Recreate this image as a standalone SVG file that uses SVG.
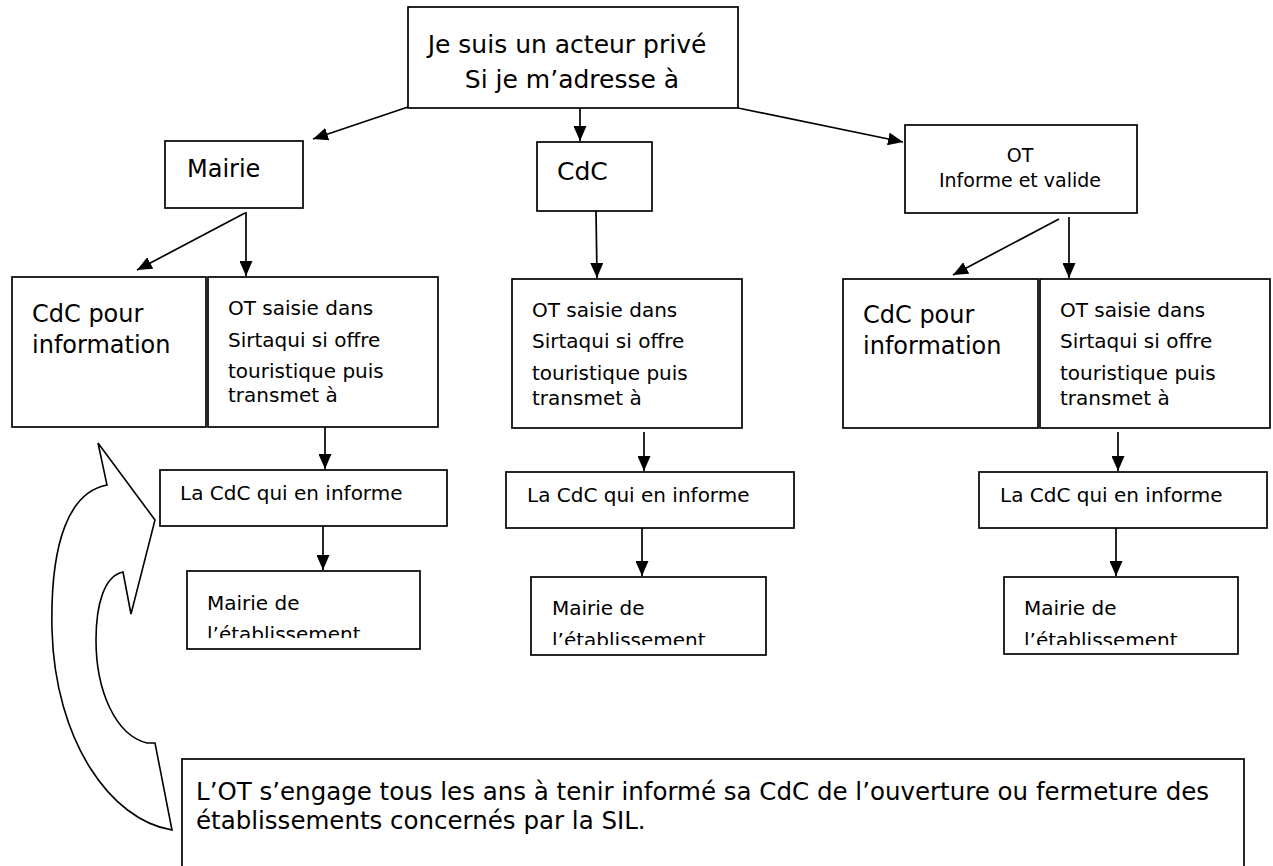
<svg xmlns="http://www.w3.org/2000/svg" width="1273" height="866" viewBox="0 0 1273 866">
<style>
  .box { fill: #fff; stroke: #000; stroke-width: 1.7; }
  .t { font-family: "DejaVu Sans", Verdana, sans-serif; fill: #000; }
  .big { font-size: 25px; }
  .note { font-size: 24.5px; }
  .mid { font-size: 24px; }
  .sm { font-size: 20px; }
  .ot { font-size: 19px; }
  .conn line { stroke: #000; stroke-width: 1.7; marker-end: url(#ah); }
</style>
<defs>
  <marker id="ah" markerUnits="userSpaceOnUse" markerWidth="15" markerHeight="13" refX="15" refY="6.5" orient="auto">
    <path d="M0,0 L15,6.5 L0,13 Z" fill="#000"/>
  </marker>
  <clipPath id="clipL"><rect x="187" y="571" width="233" height="67"/></clipPath>
  <clipPath id="clipM"><rect x="531" y="577" width="235" height="68"/></clipPath>
  <clipPath id="clipR"><rect x="1004" y="577" width="234" height="68"/></clipPath>
</defs>
<rect width="1273" height="866" fill="#fff"/>

<g id="top">
  <rect class="box" x="408" y="7" width="330" height="101"/>
  <text class="t big" x="567" y="53" text-anchor="middle">Je suis un acteur privé</text>
  <text class="t big" x="572" y="88" text-anchor="middle">Si je m’adresse à</text>
</g>

<g id="mairie">
  <rect class="box" x="165" y="141" width="138" height="67"/>
  <text class="t mid" x="187" y="177">Mairie</text>
</g>
<g id="cdc">
  <rect class="box" x="537" y="142" width="115" height="69"/>
  <text class="t big" x="557" y="180">CdC</text>
</g>
<g id="ot">
  <rect class="box" x="905" y="125" width="232" height="88"/>
  <text class="t ot" x="1020" y="162" text-anchor="middle">OT</text>
  <text class="t ot" x="1020" y="187" text-anchor="middle">Informe et valide</text>
</g>

<!-- left column -->
<g id="l-cdcinfo">
  <rect class="box" x="12" y="277" width="194" height="150"/>
  <text class="t mid" x="32" y="322">CdC pour</text>
  <text class="t mid" x="32" y="353">information</text>
</g>
<g id="l-otsaisie">
  <rect class="box" x="208" y="277" width="230" height="150"/>
  <text class="t sm" x="228" y="315">OT saisie dans</text>
  <text class="t sm" x="228" y="347">Sirtaqui si offre</text>
  <text class="t sm" x="228" y="378">touristique puis</text>
  <text class="t sm" x="228" y="402">transmet à</text>
</g>
<g id="l-lacdc">
  <rect class="box" x="160" y="470" width="287" height="56"/>
  <text class="t sm" x="180" y="500">La CdC qui en informe</text>
</g>
<g id="l-mairiede">
  <rect class="box" x="187" y="571" width="233" height="78"/>
  <text class="t sm" x="207" y="610">Mairie de</text>
  <text class="t sm" x="207" y="641" clip-path="url(#clipL)">l’établissement</text>
</g>

<!-- middle column -->
<g id="m-otsaisie">
  <rect class="box" x="512" y="279" width="230" height="149"/>
  <text class="t sm" x="532" y="317">OT saisie dans</text>
  <text class="t sm" x="532" y="348">Sirtaqui si offre</text>
  <text class="t sm" x="532" y="380">touristique puis</text>
  <text class="t sm" x="532" y="405">transmet à</text>
</g>
<g id="m-lacdc">
  <rect class="box" x="506" y="472" width="288" height="56"/>
  <text class="t sm" x="527" y="502">La CdC qui en informe</text>
</g>
<g id="m-mairiede">
  <rect class="box" x="531" y="577" width="235" height="78"/>
  <text class="t sm" x="552" y="615">Mairie de</text>
  <text class="t sm" x="552" y="647" clip-path="url(#clipM)">l’établissement</text>
</g>

<!-- right column -->
<g id="r-cdcinfo">
  <rect class="box" x="843" y="279" width="195" height="149"/>
  <text class="t mid" x="863" y="323">CdC pour</text>
  <text class="t mid" x="863" y="354">information</text>
</g>
<g id="r-otsaisie">
  <rect class="box" x="1040" y="279" width="230" height="149"/>
  <text class="t sm" x="1060" y="317">OT saisie dans</text>
  <text class="t sm" x="1060" y="348">Sirtaqui si offre</text>
  <text class="t sm" x="1060" y="380">touristique puis</text>
  <text class="t sm" x="1060" y="405">transmet à</text>
</g>
<g id="r-lacdc">
  <rect class="box" x="979" y="472" width="288" height="56"/>
  <text class="t sm" x="1000" y="502">La CdC qui en informe</text>
</g>
<g id="r-mairiede">
  <rect class="box" x="1004" y="577" width="234" height="77"/>
  <text class="t sm" x="1024" y="615">Mairie de</text>
  <text class="t sm" x="1024" y="647" clip-path="url(#clipR)">l’établissement</text>
</g>

<!-- bottom note -->
<g id="note">
  <rect class="box" x="182" y="759" width="1062" height="120"/>
  <text class="t note" x="196" y="800">L’OT s’engage tous les ans à tenir informé sa CdC de l’ouverture ou fermeture des</text>
  <text class="t note" x="196" y="829">établissements concernés par la SIL.</text>
</g>

<!-- curved arrow -->
<g id="curved-arrow">
  <path d="M98,443 L155,520 L131,614 L123,572 C104,576 96,605 96,640 C96,690 115,735 147,743 L155,743 L172,830 C110,820 55,740 52,630 C50,540 70,492 107,485 Z" fill="#fff" stroke="#000" stroke-width="1.6" stroke-linejoin="miter"/>
</g>

<g id="connectors" class="conn">
  <line x1="408" y1="107" x2="313" y2="139"/>
  <line x1="580" y1="108" x2="580" y2="141"/>
  <line x1="738" y1="108" x2="903" y2="142"/>
  <line x1="245" y1="213" x2="137" y2="270"/>
  <line x1="246" y1="212" x2="246" y2="276"/>
  <line x1="325" y1="427" x2="325" y2="469"/>
  <line x1="323" y1="526" x2="323" y2="570"/>
  <line x1="596" y1="211" x2="597" y2="278"/>
  <line x1="644" y1="432" x2="644" y2="471"/>
  <line x1="642" y1="528" x2="642" y2="576"/>
  <line x1="1059" y1="219" x2="953" y2="275"/>
  <line x1="1069" y1="217" x2="1069" y2="278"/>
  <line x1="1118" y1="432" x2="1118" y2="471"/>
  <line x1="1116" y1="528" x2="1116" y2="576"/>
</g>
</svg>
